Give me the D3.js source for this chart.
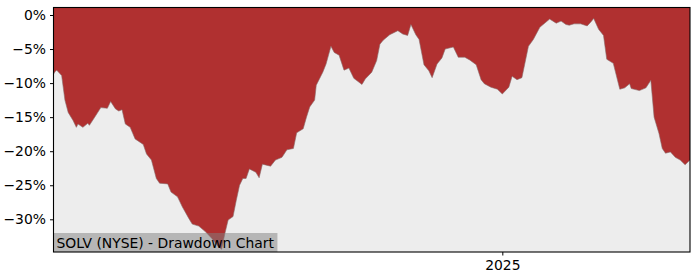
<!DOCTYPE html>
<html>
<head>
<meta charset="utf-8">
<script src="https://cdn.jsdelivr.net/npm/d3@7"></script>
<style>
  body { margin: 0; background: #fff; }
  svg { display: block; font-family: "DejaVu Sans", sans-serif; }
</style>
</head>
<body>
<svg width="700" height="280"></svg>
<script>
// drawdown data (percent below running high)
const dates = [
  "2024-04-01","2024-04-02","2024-04-03","2024-04-06","2024-04-08","2024-04-10","2024-04-13","2024-04-15",
  "2024-04-16","2024-04-19","2024-04-22","2024-04-23","2024-04-26","2024-04-30","2024-05-04","2024-05-06",
  "2024-05-09","2024-05-11","2024-05-13","2024-05-15","2024-05-18","2024-05-21","2024-05-26","2024-05-28",
  "2024-05-31","2024-06-03","2024-06-05","2024-06-10","2024-06-12","2024-06-16","2024-06-19","2024-06-23",
  "2024-06-25","2024-06-29","2024-07-03","2024-07-07","2024-07-11","2024-07-13","2024-07-15","2024-07-17",
  "2024-07-20","2024-07-22","2024-07-24","2024-07-26","2024-07-28","2024-07-30","2024-08-03","2024-08-05",
  "2024-08-07","2024-08-12","2024-08-15","2024-08-19","2024-08-22","2024-08-26","2024-08-28","2024-09-01",
  "2024-09-03","2024-09-05","2024-09-08","2024-09-09","2024-09-13","2024-09-15","2024-09-18","2024-09-20",
  "2024-09-23","2024-09-26","2024-09-29","2024-10-02","2024-10-07","2024-10-09","2024-10-13","2024-10-16",
  "2024-10-18","2024-10-20","2024-10-24","2024-10-29","2024-11-01","2024-11-04","2024-11-06","2024-11-09",
  "2024-11-11","2024-11-14","2024-11-17","2024-11-19","2024-11-22","2024-11-25","2024-11-27","2024-12-02",
  "2024-12-05","2024-12-09","2024-12-12","2024-12-16","2024-12-19","2024-12-21","2024-12-25","2024-12-29",
  "2025-01-01","2025-01-05","2025-01-07","2025-01-10","2025-01-13","2025-01-17","2025-01-20","2025-01-24",
  "2025-01-30","2025-02-03","2025-02-06","2025-02-09","2025-02-11","2025-02-14","2025-02-18","2025-02-22",
  "2025-02-24","2025-02-26","2025-03-01","2025-03-04","2025-03-06","2025-03-10","2025-03-14","2025-03-17",
  "2025-03-20","2025-03-21","2025-03-26","2025-03-30","2025-04-02","2025-04-04","2025-04-07","2025-04-09",
  "2025-04-11","2025-04-14","2025-04-17","2025-04-20","2025-04-23","2025-04-26"
];
const drawdown = [
  -8.7,-8.3,-8.1,-8.9,-12.5,-14.3,-15.5,-16.5,
  -16.0,-16.5,-15.9,-16.2,-15.1,-13.6,-13.7,-12.7,
  -13.8,-14.1,-13.9,-16.0,-16.5,-18.2,-19.0,-20.4,
  -21.3,-24.0,-24.7,-24.8,-26.0,-26.7,-28.2,-29.9,
  -30.7,-31.0,-31.8,-32.8,-34.0,-34.4,-32.1,-30.1,
  -29.6,-27.2,-25.0,-24.0,-24.0,-22.6,-23.1,-23.9,
  -21.9,-22.2,-21.3,-20.9,-19.8,-19.6,-17.3,-16.7,
  -15.0,-13.5,-12.5,-10.3,-8.4,-7.2,-4.6,-5.5,
  -5.9,-8.1,-7.8,-9.3,-10.2,-9.4,-8.4,-6.7,
  -4.3,-3.7,-2.9,-2.3,-2.8,-3.0,-1.4,-2.9,
  -3.6,-7.3,-8.2,-9.2,-7.2,-6.3,-5.0,-4.7,
  -6.2,-6.2,-6.6,-7.3,-9.5,-10.1,-10.6,-10.9,
  -11.6,-10.6,-9.0,-9.5,-9.2,-4.6,-3.6,-1.8,
  -0.6,-1.2,-0.9,-1.4,-1.5,-1.3,-1.3,-1.6,
  -1.1,-0.5,-2.1,-3.0,-6.5,-7.1,-10.9,-10.7,
  -10.1,-10.8,-11.1,-10.7,-9.6,-15.0,-17.4,-19.6,
  -20.3,-20.1,-20.9,-21.3,-22.0,-21.3
];
const yTicks = [0, -5, -10, -15, -20, -25, -30];
const xTicks = ["2025-01-01"];
const title = "SOLV (NYSE) - Drawdown Chart";

const chartDrawdown = () => {
    const parse = d3.timeParse("%Y-%m-%d");
    const data = dates.map((d, i) => ({ date: parse(d), value: drawdown[i] }));

    const plotL = 53.5, plotR = 690, plotT = 7.5, plotB = 252;

    const x = d3.scaleTime()
        .domain(d3.extent(data, d => d.date))
        .range([plotL, plotR]);

    const y = d3.scaleLinear()
        .domain([-34.8, 1.1])
        .range([plotB, plotT]);

    const svg = d3.select("svg");

    svg.append("rect")
        .attr("x", plotL).attr("y", plotT)
        .attr("width", plotR - plotL).attr("height", plotB - plotT)
        .attr("fill", "#ededed");

    const area = d3.area()
        .x(d => x(d.date))
        .y0(y.range()[1])
        .y1(d => y(d.value));

    svg.append("path")
        .datum(data)
        .attr("fill", "#b03030")
        .attr("d", area);

    svg.append("path")
        .datum(data)
        .attr("fill", "none")
        .attr("stroke", "#8a6a6a")
        .attr("stroke-width", 0.6)
        .attr("d", d3.line().x(d => x(d.date)).y(d => y(d.value)));

    // label box
    const label = svg.append("g");
    const labelBg = label.append("rect")
        .attr("fill", "grey")
        .attr("opacity", 0.5);
    const labelText = label.append("text")
        .attr("x", plotL + 3)
        .attr("y", plotB - 4.5)
        .attr("font-size", 13.9)
        .attr("fill", "#000")
        .text(title);
    const bb = labelText.node().getBBox();
    labelBg.attr("x", plotL).attr("y", plotB - 19)
        .attr("width", bb.x + bb.width + 3 - plotL).attr("height", 19);

    // axes
    const yAxis = d3.axisLeft(y)
        .tickValues(yTicks)
        .tickSize(3.5)
        .tickPadding(4)
        .tickFormat(d => d3.format("d")(d) + "%");

    svg.append("g")
        .attr("transform", `translate(${plotL},0)`)
        .call(yAxis)
        .call(g => g.select(".domain").remove())
        .call(g => g.selectAll("text").attr("font-size", 13.9).attr("font-family", "DejaVu Sans").attr("fill", "#000"))
        .call(g => g.selectAll("line").attr("stroke", "#000"));

    const xAxis = d3.axisBottom(x)
        .tickValues(xTicks.map(parse))
        .tickSize(3.5)
        .tickPadding(5)
        .tickFormat(d3.timeFormat("%Y"));

    svg.append("g")
        .attr("transform", `translate(0,${plotB})`)
        .call(xAxis)
        .call(g => g.select(".domain").remove())
        .call(g => g.selectAll("text").attr("font-size", 13.9).attr("font-family", "DejaVu Sans").attr("fill", "#000"))
        .call(g => g.selectAll("line").attr("stroke", "#000"));

    // frame
    svg.append("rect")
        .attr("x", plotL).attr("y", plotT)
        .attr("width", plotR - plotL).attr("height", plotB - plotT)
        .attr("fill", "none")
        .attr("stroke", "#000")
        .attr("stroke-width", 1.1);
};

chartDrawdown();
</script>
</body>
</html>
